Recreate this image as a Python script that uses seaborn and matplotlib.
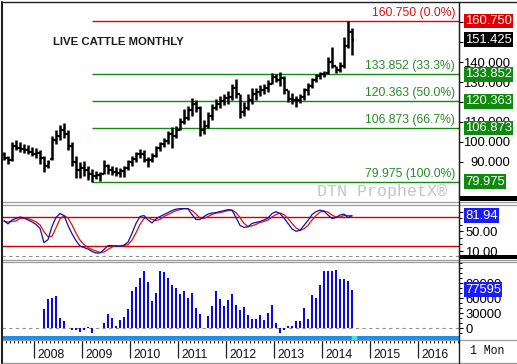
import numpy as np
import matplotlib
matplotlib.use("Agg")
import matplotlib.pyplot as plt
import matplotlib.transforms as mtransforms
from matplotlib.lines import Line2D
from matplotlib.patches import Rectangle
from matplotlib.ticker import FixedLocator, MultipleLocator
import seaborn as sns

# ---------------- data (monthly bars, May 2007 .. Aug 2014) ----------------
high = [95, 93, 100, 101, 100, 99, 98.5, 97.5, 97, 96,
        93, 91, 103, 106, 108.5, 109.5, 106, 100, 93, 90,
        90.5, 88, 86.5, 85.5, 85, 91, 89, 88, 87.5, 87,
        88, 91, 93, 95, 96.5, 96, 92.5, 94.5, 98, 100,
        102, 105.5, 107.5, 108, 112, 116.5, 118, 122, 121, 118,
        111, 115, 119, 121.5, 123, 124, 125.5, 129, 131.5, 124,
        120, 124, 127, 127, 128.5, 129, 131, 134.5, 134, 135,
        133, 126, 124.5, 123, 124, 127, 129.5, 132, 134, 135,
        135.5, 142.5, 147.5, 138, 140, 152.5, 160.75, 157]
low = [91, 89, 90.5, 96, 95, 94.5, 94, 93, 92, 89,
       85, 87, 91, 99, 101, 102, 96, 88, 82, 82,
       83, 81, 79.975, 81.5, 80.5, 84, 84, 83.5, 83, 82.5,
       82.5, 86, 88, 90, 92, 90, 87.5, 90, 92.5, 95.5,
       97.5, 99, 97, 102, 106, 109, 111, 113, 115, 103,
       104, 107, 111, 116, 117, 118.5, 119, 121, 122, 112,
       113, 116, 119, 121, 123, 124, 125, 129, 130, 128,
       124, 120, 119, 117.5, 119.5, 121, 123.5, 127, 130, 131.5,
       132.5, 134, 137, 134.5, 135, 137, 147, 143.5]
open_ = [94, 92, 91, 98, 97, 96.5, 96, 95, 94, 94.5,
         92, 88, 91.5, 101, 103, 106, 104, 98, 90, 86,
         87, 86, 84, 83, 83.5, 84, 88, 86, 85, 84.5,
         85.5, 87, 90, 91.5, 94, 94, 91, 91, 93, 97,
         99, 100.5, 104, 103, 106, 110, 112, 116, 119, 117,
         106, 108, 113, 117, 119, 120.5, 122, 122.5, 127, 124,
         115, 117, 121, 124, 125, 126, 127, 129, 132.5, 131,
         132, 126, 121.5, 121, 121, 122.5, 126, 128, 131, 133,
         134, 134.5, 140, 138, 136, 138, 148, 155]
close = [92, 91, 98, 97, 96.5, 96, 95, 94, 94.5, 92,
         88, 90, 101, 103, 106, 104, 98, 90, 86, 87,
         86, 84, 83, 83.5, 84, 88, 86, 85, 84.5, 85.5,
         87, 90, 91.5, 94, 94, 91, 91, 93, 97, 99,
         100.5, 104, 103, 106, 110, 112, 116, 119, 117, 106,
         108, 113, 117, 119, 120.5, 122, 122.5, 127, 124, 115,
         117, 121, 124, 125, 126, 127, 129, 132.5, 131, 132,
         126, 121.5, 121, 121, 122.5, 126, 128, 131, 133, 134,
         133.5, 140, 138, 136, 138, 148, 155, 151.425]

stoch_k = [72, 65, 73, 76, 79, 77, 73, 69, 64, 56,
           27, 33, 60, 78, 86, 82, 62, 45, 31, 20,
           17, 14, 9, 6, 6, 13, 21, 21, 20, 20,
           22, 28, 46, 66, 80, 82, 73, 67, 75, 80,
           84, 88, 92, 95, 96, 96, 96, 84, 74, 74,
           80, 85, 87, 88, 90, 92, 94, 93, 78, 62,
           58, 59, 66, 68, 70, 73, 77, 86, 90, 86,
           77, 66, 55, 50, 52, 62, 72, 84, 90, 93,
           91, 83, 76, 78, 83, 85, 78, 81.94]
stoch_d = [70, 69, 70, 71, 76, 77, 76, 73, 69, 63,
           49, 39, 40, 57, 75, 82, 77, 63, 46, 32,
           23, 17, 13, 10, 7, 8, 13, 18, 21, 20,
           21, 23, 32, 47, 64, 76, 78, 74, 72, 74,
           80, 84, 88, 92, 94, 96, 96, 92, 85, 77,
           76, 80, 84, 87, 88, 90, 92, 93, 88, 78,
           66, 60, 61, 64, 68, 70, 73, 79, 84, 87,
           84, 76, 66, 57, 52, 55, 62, 73, 82, 89,
           91, 89, 83, 79, 79, 82, 82, 81]

hist_start = 10   # first histogram bar = bar index 10 (Mar 2008)
hist_vals = [38600, 58600, 60000, 64600, 21000, 14600, 1000, -3000, -3000, -8000,
             -4000, 2000, -9000, 0, 1000, 10000, 28000, 21000, 4000, 16000,
             22000, 38000, 74600, 83000, 101000, 114600, 93000, 54000, 70000, 114600,
             113000, 100000, 86600, 80000, 68000, 74600, 61000, 70000, 41000, 28000,
             0, 25000, 45000, 74600, 58600, 45000, 56000, 68000, 47000, 37000,
             42000, 27000, 19000, 19000, 27000, 16000, 31000, 47000, 10000, -9000,
             -4000, 5000, 4000, 14000, 14000, 40000, 19000, 66000, 61000, 86000,
             114600, 114000, 114000, 116000, 98000, 98000, 94000, 77595]

fib_levels = [160.750, 133.852, 120.363, 106.873, 79.975]
fib_pcts = ["0.0%", "33.3%", "50.0%", "66.7%", "100.0%"]
fib_start = 22            # bar index of the swing low
years = [2008, 2009, 2010, 2011, 2012, 2013, 2014, 2015, 2016]
jan2008_index = 8
price_ticks = [90, 100, 110, 120, 130, 140, 150, 160]
price_tick_labels = ["90.000", "100.000", "110.000", "", "130.000", "140.000", "150.000", ""]
stoch_ticks = [10, 50, 90]
stoch_tick_labels = ["10.00", "50.00", ""]
hist_ticks = [0, 30000, 60000, 90000]
title = "LIVE CATTLE MONTHLY"
last_price = 151.425
last_k = 81.94
last_hist = 77595

# ---------------- figure ----------------
sns.set_style("white")
plt.rcParams["font.family"] = ["Liberation Sans", "DejaVu Sans"]

W, H = 517, 364
fig = plt.figure(figsize=(W / 100, H / 100), dpi=100)
fig.patch.set_facecolor("white")


def add_px(x0, y0, x1, y1):
    return fig.add_axes([x0 / W, 1 - y1 / H, (x1 - x0) / W, (y1 - y0) / H])


XR = (-0.5, 113.75)
t = np.arange(len(close))
GREEN = "#118a11"
BOX_GREEN = "#0f8a0f"
RED = "#e00000"
BLUE = "#1a1aff"

# ---------------- price panel ----------------
ax = add_px(2, 2, 459, 199)
ax.set_xlim(*XR)
ax.set_ylim(71.26, 170.30)
for s in ["left", "top", "bottom"]:
    ax.spines[s].set_visible(False)
ax.spines["right"].set_color("black")
ax.set_xticks([])

for lvl, pct in zip(fib_levels, fib_pcts):
    col = RED if pct == "0.0%" else GREEN
    ax.hlines(lvl, fib_start, XR[1], color=col, lw=1.0, zorder=1)
    ax.text(112.8, lvl + 4.1, f"{lvl:.3f} ({pct})", color=("#e01010" if col == RED else "#2a8a2a"),
            fontsize=8.7, ha="right", va="center")

ax.vlines(t, low, high, color="black", lw=1.8, zorder=3)
ax.hlines(open_, t - 0.5, t, color="black", lw=1.6, zorder=3)
ax.hlines(close, t, t + 0.5, color="black", lw=1.6, zorder=3)

ax.text((52.7 - 2) / 457, (199 - 42) / 197, title, transform=ax.transAxes,
        fontsize=8.2, fontweight="bold", color="#1c1c1c", ha="left", va="center")
ax.text((382 - 2) / 457, (199 - 191.5) / 197, "DTN ProphetX®", transform=ax.transAxes,
        family=["Liberation Mono", "DejaVu Sans Mono"], fontsize=12, color="#c4c4c4",
        ha="center", va="center")

ax.yaxis.tick_right()
ax.set_yticks(price_ticks)
ax.set_yticklabels(price_tick_labels)
ax.tick_params(axis="y", direction="out", length=3, width=0.8, pad=34.0, labelsize=9.4,
               colors="black")
for lab in ax.get_yticklabels():
    lab.set_horizontalalignment("right")

tr = mtransforms.blended_transform_factory(ax.transAxes, ax.transData)
xb = (465 - 2) / 457
box_items = [(fib_levels[0], RED), (last_price, "black")] + [(v, BOX_GREEN) for v in fib_levels[1:]]
for v, c in box_items:
    ax.text(xb, v, f"{v:.3f}", transform=tr, color="white", fontsize=9.4, ha="left",
            va="center", clip_on=False, zorder=10,
            bbox=dict(boxstyle="square,pad=0.1", fc=c, ec="none"))

# ---------------- stochastic panel ----------------
ax2 = add_px(2, 205, 459, 258)
ax2.set_xlim(*XR)
ax2.set_ylim(50 - (258 - 231.3) / 0.4925, 50 + (231.3 - 205) / 0.4925)
for s in ["left", "top", "bottom"]:
    ax2.spines[s].set_visible(False)
ax2.set_xticks([])
ax2.axhline(80, color="#d00000", lw=1.0)
ax2.axhline(20, color="#d00000", lw=1.0)
ax2.axhline(0, color="#909090", lw=0.8, ls=(0, (3, 3)))
sns.lineplot(x=t, y=stoch_d, ax=ax2, color="#e01010", lw=0.9, legend=False)
sns.lineplot(x=t, y=stoch_k, ax=ax2, color="#1010b0", lw=0.9, legend=False)
ax2.yaxis.tick_right()
ax2.set_yticks(stoch_ticks)
ax2.set_yticklabels(stoch_tick_labels)
ax2.yaxis.set_minor_locator(FixedLocator([10 + 40 / 3 * k for k in range(-1, 8)]))
ax2.tick_params(axis="y", which="major", direction="out", length=3, width=0.8, pad=1.5,
                labelsize=9.4, colors="black")
ax2.tick_params(axis="y", which="minor", direction="out", length=2, width=0.7, colors="black")
ax2.set_ylabel("")
tr2 = mtransforms.blended_transform_factory(ax2.transAxes, ax2.transData)
ax2.text(xb, last_k, f"{last_k:.2f}", transform=tr2, color="white", fontsize=9.4, ha="left",
         va="center", clip_on=False, zorder=10,
         bbox=dict(boxstyle="square,pad=0.1", fc=BLUE, ec="none"))

# ---------------- histogram panel ----------------
ax3 = add_px(2, 262.5, 459, 335.5)
ax3.set_xlim(*XR)
ax3.set_ylim((328.3 - 335.5) * 2000, (328.3 - 262.5) * 2000)
for s in ["left", "top", "bottom"]:
    ax3.spines[s].set_visible(False)
ax3.set_xticks([])
th = np.arange(hist_start, hist_start + len(hist_vals))
ax3.bar(th, hist_vals, width=0.66, color="#0808e8", edgecolor="none", linewidth=0, zorder=3)
ax3.axhline(0, color="#909090", lw=0.8, ls=(0, (3, 3)), zorder=1)
ax3.yaxis.tick_right()
ax3.set_yticks(hist_ticks)
ax3.set_yticklabels([f"{v}" for v in hist_ticks])
ax3.yaxis.set_minor_locator(MultipleLocator(10000))
ax3.tick_params(axis="y", which="major", direction="out", length=3, width=0.8, pad=1.5,
                labelsize=9.4, colors="black")
ax3.tick_params(axis="y", which="minor", direction="out", length=2, width=0.7, colors="black")
tr3 = mtransforms.blended_transform_factory(ax3.transAxes, ax3.transData)
ax3.text(xb, last_hist, f"{last_hist}", transform=tr3, color="white", fontsize=9.4, ha="left",
         va="center", clip_on=False, zorder=10,
         bbox=dict(boxstyle="square,pad=0.1", fc=BLUE, ec="none"))

# ---------------- blue strip ----------------
ax4 = add_px(2, 335.5, 459, 340)
ax4.set_xlim(*XR)
ax4.set_ylim(0, 1)
ax4.set_facecolor("#1f8fe8")
ax4.axvspan(len(close) - 1 - 0.1, len(close) - 1 + 0.9, color="#40e8e8")
ax4.set_xticks([])
ax4.set_yticks([])
for s in ax4.spines.values():
    s.set_visible(False)

# ---------------- date axis ----------------
ax5 = add_px(2, 340, 459, 362)
ax5.set_xlim(*XR)
ax5.set_ylim(0, 1)
ax5.set_yticks([])
for s in ax5.spines.values():
    s.set_visible(False)
ax5.xaxis.set_ticks_position("top")
seps = [jan2008_index - 0.5 + 12 * k for k in range(len(years))]
ax5.set_xticks(seps)
ax5.set_xticklabels([])
ax5.xaxis.set_minor_locator(FixedLocator(np.arange(-0.5, 114, 1.0)))
ax5.tick_params(axis="x", which="major", direction="in", length=13, width=0.9, colors="#202020")
ax5.tick_params(axis="x", which="minor", direction="in", length=2.3, width=0.7, colors="#202020")
trd = mtransforms.blended_transform_factory(ax5.transData, ax5.transAxes)
for sx, yr in zip(seps, years):
    ax5.text(sx + 0.9, 0.33, str(yr), transform=trd, fontsize=8.8, ha="left", va="center",
             color="#101010")
fig.text(487 / W, 1 - 351 / H, "1 Mon", family=["Liberation Mono", "DejaVu Sans Mono"],
         fontsize=8.3, ha="center", va="center", color="#101010")

# ---------------- frame decorations (pixel overlay) ----------------
ov = fig.add_axes([0, 0, 1, 1], zorder=20)
ov.set_xlim(0, W)
ov.set_ylim(H, 0)
ov.axis("off")
ov.patch.set_alpha(0)


def hline(y, x0, x1, c, lw):
    ov.add_line(Line2D([x0, x1], [y, y], color=c, lw=lw))


def vline(x, y0, y1, c, lw):
    ov.add_line(Line2D([x, x], [y0, y1], color=c, lw=lw))


hline(1.5, 2, W, "#202020", 1.0)
hline(202, 2, W, "#9a9a9a", 0.9)
hline(204.5, 2, W, "#9a9a9a", 0.9)
hline(259.8, 2, W, "#9a9a9a", 0.9)
hline(262.2, 2, W, "#9a9a9a", 0.9)
hline(340, 2, W, "#9a9a9a", 0.9)
hline(362.5, 2, W, "#9a9a9a", 1.0)
vline(2, 1.5, 363, "#202020", 1.5)
vline(459, 1.5, 363, "#202020", 1.0)
ov.add_patch(Rectangle((459.5, 196.3), W - 459.5, 4.2, color="black", lw=0))
ov.add_patch(Rectangle((459.5, 254.6), W - 459.5, 4.0, color="black", lw=0))

fig.savefig("out.png", dpi=100, facecolor="white")
